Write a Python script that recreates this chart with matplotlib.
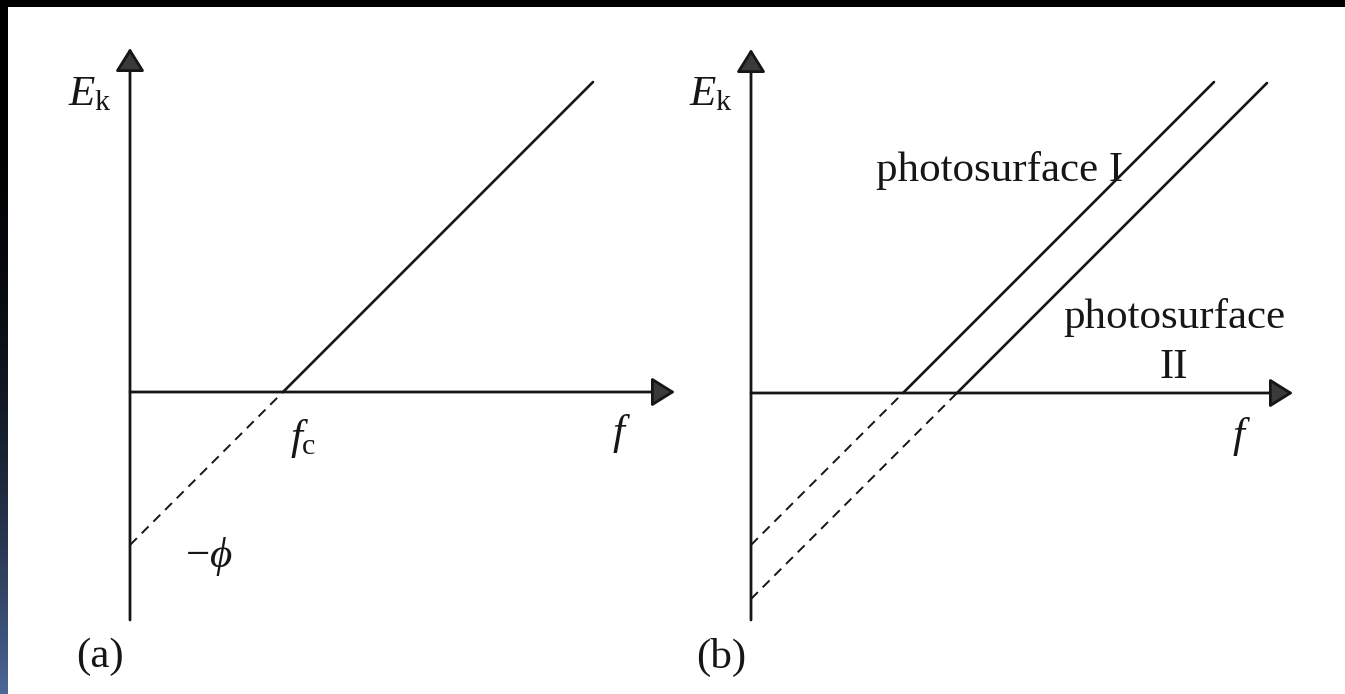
import numpy as np
import matplotlib.pyplot as plt
from matplotlib.patches import Rectangle

plt.rcParams['font.family'] = ['Liberation Serif', 'DejaVu Serif']
plt.rcParams['mathtext.fontset'] = 'custom'
plt.rcParams['mathtext.rm'] = 'Liberation Serif'
plt.rcParams['mathtext.it'] = 'Liberation Serif:italic'

# threshold frequencies and the frequency where each solid line stops
# (arbitrary units, slope h = 1 so the E-intercept is -phi = -h*fc)
h = 1.0
fc_a = [1.53]
fend_a = [4.63]
fc_b = [1.52, 2.06]
fend_b = [4.63, 5.16]

# axis extents
f_axis_a = [0.0, 5.45]
e_axis_a = [-2.28, 3.44]
f_axis_b = [0.0, 5.42]
e_axis_b = [-2.27, 3.44]

W, H = 1345, 694
ink = '#161616'
FS = 31

fig = plt.figure(figsize=(W / 100, H / 100), dpi=100, facecolor='black')


def px_axes(x0, y0, x1, y1):
    return fig.add_axes([x0 / W, 1 - y1 / H, (x1 - x0) / W, (y1 - y0) / H])


# white page with a dark blue strip down the left edge
fig.patches.append(Rectangle((8 / W, 0), 1 - 8 / W, 1 - 7 / H,
                             transform=fig.transFigure, facecolor='white',
                             edgecolor='none', zorder=-10))
strip = px_axes(0, 7, 8, H)
t = np.linspace(0, 1, 300) ** 2.5
blue = np.array([76, 103, 152]) / 255
grad = (t[:, None] * blue)[:, None, :]
strip.imshow(grad, aspect='auto', extent=(0, 1, 1, 0))
strip.axis('off')


def panel(ax, fcs, fends, f_axis, e_axis):
    ax.set_facecolor('none')
    ax.axis('off')
    arrow = dict(arrowstyle='-|>,head_length=0.8,head_width=0.5',
                 mutation_scale=18, lw=2.0, color=ink, fc='#3a3a3a',
                 shrinkA=0, shrinkB=0)
    ax.annotate('', xy=(f_axis[1], 0), xytext=(f_axis[0], 0), arrowprops=arrow)
    ax.annotate('', xy=(0, e_axis[1]), xytext=(0, e_axis[0]), arrowprops=arrow)
    for fc, fe in zip(fcs, fends):
        f = np.array([fc, fe])
        ax.plot(f, h * (f - fc), color=ink, lw=1.9, solid_capstyle='round')
        f = np.array([0, fc])
        ax.plot(f, h * (f - fc), color=ink, lw=1.4, dashes=(5, 3.5))


ax_a = px_axes(0, 7, 700, H)
ax_a.set_xlim(-1.30, 5.70)
ax_a.set_ylim(-3.02, 3.85)
panel(ax_a, fc_a, fend_a, f_axis_a, e_axis_a)
ax_a.text(-0.18, 2.87, r'$E_{\mathrm{k}}$', fontsize=FS, ha='right', va='baseline', color=ink)
ax_a.text(1.60, -0.57, r'$f_{\mathrm{c}}$', fontsize=FS, ha='left', va='baseline', color=ink)
ax_a.text(4.91, -0.52, r'$f$', fontsize=FS, ha='center', va='baseline', color=ink)
ax_a.text(0.79, -1.65, r'$-\phi$', fontsize=FS, ha='center', va='center', color=ink)
ax_a.text(-0.30, -2.65, '(a)', fontsize=FS, ha='center', va='center', color=ink)

ax_b = px_axes(700, 7, W, H)
ax_b.set_xlim(-0.51, 5.94)
ax_b.set_ylim(-3.01, 3.86)
panel(ax_b, fc_b, fend_b, f_axis_b, e_axis_b)
ax_b.text(-0.18, 2.88, r'$E_{\mathrm{k}}$', fontsize=FS, ha='right', va='baseline', color=ink)
ax_b.text(4.90, -0.54, r'$f$', fontsize=FS, ha='center', va='baseline', color=ink)
ax_b.text(1.25, 2.12, 'photosurface I', fontsize=FS, ha='left', va='baseline', color=ink)
ax_b.text(4.23, 0.65, 'photosurface', fontsize=FS, ha='center', va='baseline', color=ink)
ax_b.text(4.23, 0.15, 'II', fontsize=FS, ha='center', va='baseline', color=ink)
ax_b.text(-0.30, -2.64, '(b)', fontsize=FS, ha='center', va='center', color=ink)

fig.savefig('out.png', dpi=100, facecolor=fig.get_facecolor())
